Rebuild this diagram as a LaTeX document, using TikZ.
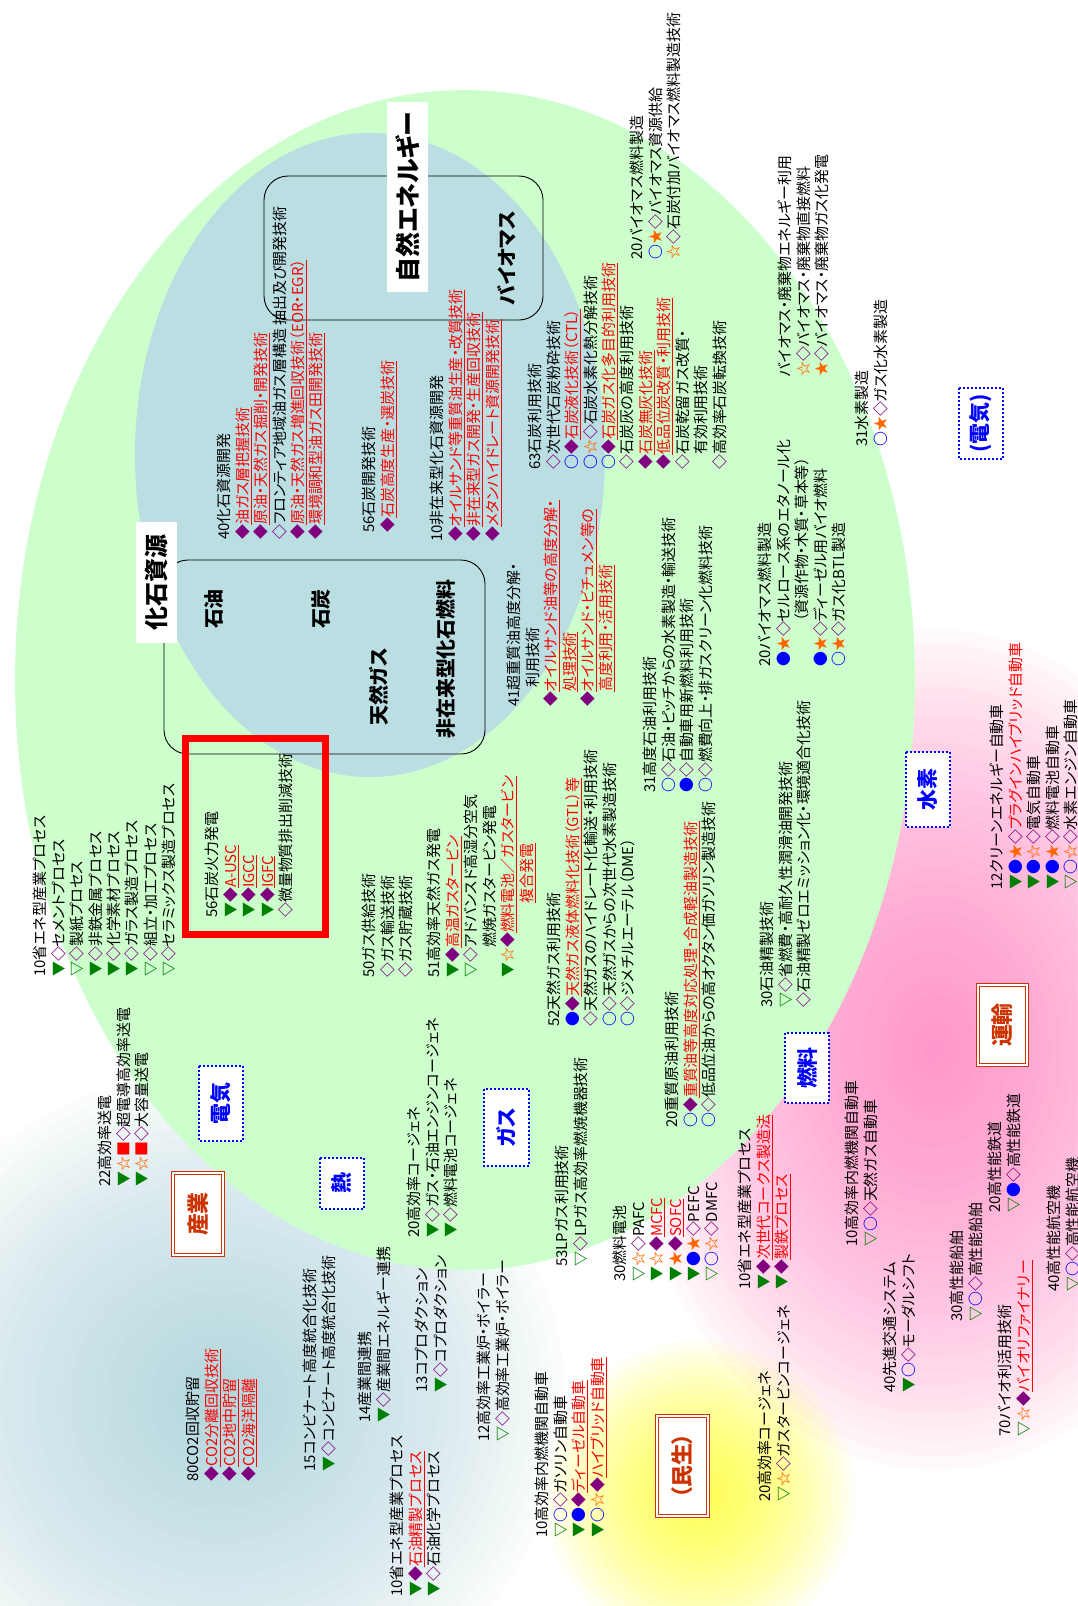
\documentclass[tikz,border=0pt]{standalone}
\usepackage{fontspec}
\setmainfont{Noto Sans CJK JP}[RawFeature=+palt]

\definecolor{bgreen}{RGB}{204,255,204}
\definecolor{bblue}{RGB}{186,222,226}
\definecolor{symgreen}{RGB}{0,128,0}
\definecolor{sympurple}{RGB}{128,0,128}
\definecolor{symblue}{RGB}{0,0,255}
\definecolor{symorange}{RGB}{255,102,0}
\definecolor{symred}{RGB}{255,0,0}
\definecolor{sector}{RGB}{204,51,0}
\definecolor{glowpink}{RGB}{255,120,190}
\definecolor{glowyellow}{RGB}{255,255,20}
\definecolor{glowteal}{RGB}{150,205,215}

% marker glyphs used in the item lists
\newcommand\gT{\textcolor{symgreen}{▼}}
\newcommand\gTo{\textcolor{symgreen}{\textbf{▽}}}
\newcommand\pD{\textcolor{sympurple}{◆}}
\newcommand\pDo{\textcolor{sympurple}{\textbf{◇}}}
\newcommand\bC{\textcolor{symblue}{●}}
\newcommand\bCo{\textcolor{symblue}{\textbf{○}}}
\newcommand\oS{\textcolor{symorange}{★}}
\newcommand\oSo{\textcolor{symorange}{\textbf{☆}}}
\newcommand\rQ{\textcolor{symred}{■}}
\newcommand\ru[1]{\textcolor{symred}{\underline{#1}}}
\newcommand\rt[1]{\textcolor{symred}{#1}}

\tikzset{
  blk/.style={rotate=90, anchor=north west, inner sep=0pt, align=left,
    font=\fontsize{15}{18.5}\selectfont},
  lbl/.style={rotate=90, inner sep=0pt, font=\fontsize{20}{20}\selectfont\bfseries},
  catbox/.style={rotate=90, draw=symblue, fill=white, line width=1.8bp,
    dash pattern=on 1.8bp off 2.2bp, inner sep=0pt, text=symblue,
    font=\fontsize{21}{21}\selectfont\bfseries},
  secbox/.style={rotate=90, draw=sector, double=white, double distance=2bp,
    line width=1.3bp, fill=white, inner sep=0pt, text=sector,
    font=\fontsize{22}{22}\selectfont\bfseries},
  frame/.style={draw=black, line width=0.9bp, rounded corners=24bp},
}

\begin{document}
\begin{tikzpicture}[x=1bp,y=-1bp]
\useasboundingbox (0,0) rectangle (1077,1606);
\fill[white] (0,0) rectangle (1077,1606);

% soft coloured glows behind the sectors
\foreach \k in {1,...,30}{
  \fill[glowteal, opacity=0.03] (220,1400) ellipse [x radius={11.5*\k}, y radius={11*\k}];
  \fill[glowpink, opacity=0.04] (935,1050) ellipse [x radius={10.5*\k}, y radius={14*\k}];
}
\foreach \k in {1,...,22}{
  \fill[glowyellow, opacity=0.05] (700,1495) ellipse [x radius={7*\k}, y radius={7*\k}];
}

% energy resource domains
\fill[bgreen] (465,680) ellipse [x radius=450, y radius=590];
\fill[bblue] (370,455) ellipse [x radius=235, y radius=322];

\draw[frame] (164,560) rectangle (485,754);
\draw[frame] (264,176) rectangle (543,320);

\node[lbl, fill=white, minimum width=121bp, minimum height=41bp,
  font=\fontsize{24}{24}\selectfont\bfseries] (fossil) at (156.5,582.5) {化石資源};
\node[lbl] (oil) at (214,609) {石油};
\node[lbl] (coal) at (321,609) {石炭};
\node[lbl] (natgas) at (379,687) {天然ガス};
\node[lbl] (unconv) at (446,659) {非在来型化石燃料};

\node[lbl, fill=white, minimum width=190bp, minimum height=41bp,
  font=\fontsize{25}{25}\selectfont\bfseries] (renew) at (407.5,197) {自然エネルギー};
\node[lbl] (biomass) at (507,258) {バイオマス};

% highlighted coal power group
\draw[symred, line width=7bp] (185.5,738.5) rectangle (325,934);

% carrier labels
\node[catbox, minimum width=71bp, minimum height=44bp] (elecR) at (981,423.5) {(電気)};
\node[catbox, minimum width=75bp, minimum height=44bp] (hydro) at (928,789.5) {水素};
\node[catbox, minimum width=70bp, minimum height=44bp] (fuel) at (807,1068) {燃料};
\node[catbox, minimum width=75bp, minimum height=44bp] (elecL) at (221,1103.5) {電気};
\node[catbox, minimum width=51bp, minimum height=44bp] (heat) at (342,1183.5) {熱};
\node[catbox, minimum width=77bp, minimum height=45bp] (gas) at (506.5,1127.5) {ガス};

% demand sectors
\node[secbox, minimum width=82bp, minimum height=50bp] (industry) at (198,1214) {産業};
\node[secbox, minimum width=80bp, minimum height=49bp] (transport) at (1002.5,1025) {運輸};
\node[secbox, minimum width=100bp, minimum height=51bp] (civil) at (682.5,1466) {（民生）};

% technology lists
\node[blk] (t01) at (33,977) {10省エネ型産業プロセス\\
\gT\pDo セメントプロセス\\
\gTo\pDo 製紙プロセス\\
\gT\pDo 非鉄金属プロセス\\
\gT\pDo 化学素材プロセス\\
\gT\pDo ガラス製造プロセス\\
\gTo\pDo 組立・加工プロセス\\
\gTo\pDo セラミックス製造プロセス};

\node[blk] (t02) at (98,1187) {22高効率送電\\
\gT\oSo\rQ\pDo 超電導高効率送電\\
\gT\oSo\rQ\pDo 大容量送電};

\node[blk] (t03) at (205,918) {56石炭火力発電\\
\gT\pD\ru{A-USC}\\
\gT\pD\ru{IGCC}\\
\gT\pD\ru{IGFC}\\
\pDo 微量物質排出削減技術};

\node[blk] (t04) at (186,1482) {80CO2回収貯留\\
\pD\ru{CO2分離回収技術}\\
\pD\ru{CO2地中貯留}\\
\pD\ru{CO2海洋隔離}};

\node[blk] (t05) at (303,1472) {15コンビナート高度統合化技術\\
\gT\pDo コンビナート高度統合化技術};

\node[blk] (t06) at (358,1423) {14産業間連携\\
\gT\pDo 産業間エネルギー連携};

\node[blk] (t07) at (390,1597) {10省エネ型産業プロセス\\
\gT\pD\ru{石油精製プロセス}\\
\gT\pDo 石油化学プロセス};

\node[blk] (t08) at (415,1393) {13コプロダクション\\
\gT\pDo コプロダクション};

\node[blk] (t09) at (477,1442) {12高効率工業炉・ボイラー\\
\gTo\pDo 高効率工業炉・ボイラー};

\node[blk] (t10) at (535,1538) {10高効率内燃機関自動車\\
\gTo\bCo\pDo ガソリン自動車\\
\gT\bC\pD\ru{ディーゼル自動車}\\
\gT\bCo\oSo\pD\ru{ハイブリッド自動車}};

\node[blk] (t11) at (407,1238) {20高効率コージェネ\\
\gT\pDo ガス・石油エンジンコージェネ\\
\gT\pDo 燃料電池コージェネ};

\node[blk] (t12) at (362,978) {50ガス供給技術\\
\pDo ガス輸送技術\\
\pDo ガス貯蔵技術};

\node[blk] (t13) at (427,978) {51高効率天然ガス発電\\
\gT\pD\ru{高温ガスタービン}\\
\gTo\pDo アドバンスド高湿分空気\\
\hspace*{2em}燃焼ガスタービン発電\\
\gT\oSo\pD\ru{燃料電池／ガスタービン}\\
\hspace*{5em}\ru{複合発電}};

\node[blk] (t14) at (547,1027) {52天然ガス利用技術\\
\bC\pD\ru{天然ガス液体燃料化技術（GTL）等}\\
\pDo 天然ガスのハイドレート化輸送・利用技術\\
\bCo\pDo 天然ガスからの次世代水素製造技術\\
\bCo\pDo ジメチルエーテル（DME）};

\node[blk] (t15) at (555,1267) {53LPガス利用技術\\
\gTo\pDo LPガス高効率燃焼機器技術};

\node[blk] (t16) at (613,1282) {30燃料電池\\
\gTo\oSo\pDo PAFC\\
\gT\oSo\pD\ru{MCFC}\\
\gT\oS\pD\ru{SOFC}\\
\gT\bC\oS\pDo PEFC\\
\gTo\bCo\oSo\pDo DMFC};

\node[blk] (t17) at (738,1290) {10省エネ型産業プロセス\\
\gT\pD\ru{次世代コークス製造法}\\
\gT\pD\ru{製鉄プロセス}};

\node[blk] (t18) at (758,1502) {20高効率コージェネ\\
\gTo\oSo\pDo ガスタービンコージェネ};

\node[blk] (t19) at (665,1128) {20重質原油利用技術\\
\bCo\pD\ru{重質油等高度対応処理・合成軽油製造技術}\\
\bCo\pDo 低品位油からの高オクタン価ガソリン製造技術};

\node[blk] (t20) at (845,1247) {10高効率内燃機関自動車\\
\gTo\bCo\pDo 天然ガス自動車};

\node[blk] (t21) at (883,1393) {40先進交通システム\\
\gT\bCo\pDo モーダルシフト};

\node[blk] (t22) at (950,1322) {30高性能船舶\\
\gTo\bCo\pDo 高性能船舶};

\node[blk] (t23) at (998,1437) {70バイオ利活用技術\\
\gTo\oSo\pD\ru{バイオリファイナリー}};

\node[blk] (t24) at (988,1213) {20高性能鉄道\\
\gTo\bC\pDo 高性能鉄道};

\node[blk] (t25) at (1047,1292) {40高性能航空機\\
\gTo\bCo\pDo 高性能航空機};

\node[blk] (t26) at (990,890) {12クリーンエネルギー自動車\\
\gT\bC\oS\pDo\rt{プラグインハイブリッド自動車}\\
\gT\bC\oSo\pDo 電気自動車\\
\gT\bC\oS\pDo 燃料電池自動車\\
\gTo\bCo\oSo\pDo 水素エンジン自動車};

\node[blk] (t27) at (760,1008) {30石油精製技術\\
\gTo\pDo 省燃費・高耐久性潤滑油開発技術\\
\pDo 石油精製ゼロエミッション化・環境適合化技術};

\node[blk] (t28) at (643,793) {31高度石油利用技術\\
\bCo\pDo 石油・ピッチからの水素製造・輸送技術\\
\bC\pDo 自動車用新燃料利用技術\\
\bCo\pDo 燃費向上・排ガスクリーン化燃料技術};

\node[blk] (t29) at (507,707) {41超重質油高度分解・\\
\hspace*{1.3em}利用技術\\
\pD\ru{オイルサンド油等の高度分解・}\\
\hspace*{1em}\ru{処理技術}\\
\pD\ru{オイルサンド・ビチュメン等の}\\
\hspace*{1em}\ru{高度利用・活用技術}};

\node[blk] (t30) at (758,667) {20バイオマス燃料製造\\
\bC\oS\pDo セルロース系のエタノール化\\
\hspace*{3em}（資源作物・木質・草本等）\\
\bC\oS\pDo ディーゼル用バイオ燃料\\
\bCo\oS\pDo ガス化BTL製造};

\node[blk] (t31) at (528,470) {63石炭利用技術\\
\pDo 次世代石炭粉砕技術\\
\bCo\pD\ru{石炭液化技術（CTL）}\\
\bCo\oSo\pDo 石炭水素化熱分解技術\\
\bCo\pD\ru{石炭ガス化多目的利用技術}\\
\pDo 石炭灰の高度利用技術\\
\pD\ru{石炭無灰化技術}\\
\pD\ru{低品位炭改質・利用技術}\\
\pDo 石炭乾留ガス改質・\\
\hspace*{1em}有効利用技術\\
\pDo 高効率石炭転換技術};

\node[blk] (t32) at (217,540) {40化石資源開発\\
\pD\ru{油ガス層把握技術}\\
\pD\ru{原油・天然ガス掘削・開発技術}\\
\pDo フロンティア地域油ガス層構造 抽出及び開発技術\\
\pD\ru{原油・天然ガス増進回収技術（EOR・EGR）}\\
\pD\ru{環境調和型油ガス田開発技術}};

\node[blk] (t33) at (362,533) {56石炭開発技術\\
\pD\ru{石炭高度生産・選炭技術}};

\node[blk] (t34) at (430,542) {10非在来型化石資源開発\\
\pD\ru{オイルサンド等重質油生産・改質技術}\\
\pD\ru{非在来型ガス開発・生産回収技術}\\
\pD\ru{メタンハイドレート資源開発技術}};

\node[blk] (t35) at (630,260) {20バイオマス燃料製造\\
\bCo\oS\pDo バイオマス資源供給\\
\oSo\pDo 石炭付加バイオマス燃料製造技術};

\node[blk] (t36) at (778,377) {バイオマス・廃棄物エネルギー利用\\
\oSo\pDo バイオマス・廃棄物直接燃料\\
\oS\pDo バイオマス・廃棄物ガス化発電};

\node[blk] (t37) at (855,447) {31水素製造\\
\bCo\oS\pDo ガス化水素製造};

\end{tikzpicture}
\end{document}
